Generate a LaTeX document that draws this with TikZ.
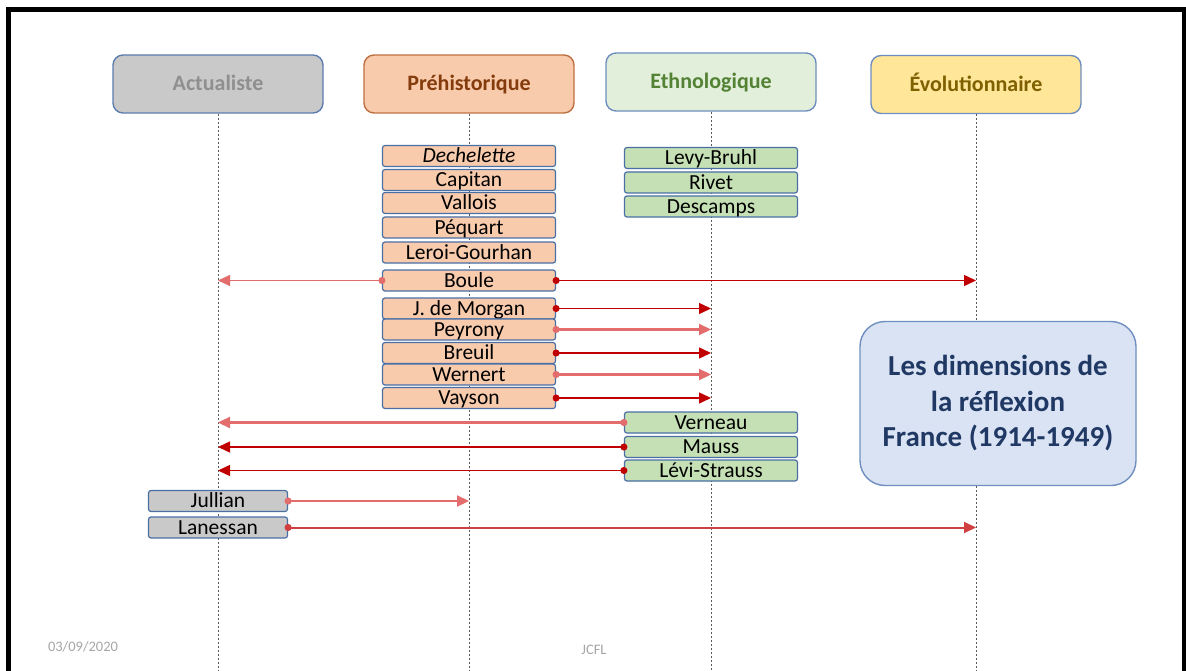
\documentclass[tikz,border=0pt]{standalone}
\usepackage{fontspec}
\setmainfont{Carlito}
\usetikzlibrary{arrows.meta,positioning}

\definecolor{linkred}{HTML}{C00000}
\definecolor{palered}{HTML}{E36C6C}
\definecolor{midred}{HTML}{D04040}
\definecolor{boxblue}{HTML}{4A6FA5}
\definecolor{softblue}{HTML}{6F8FC0}
\definecolor{prehfill}{HTML}{F8CBAD}
\definecolor{prehdraw}{HTML}{C07040}
\definecolor{prehtext}{HTML}{843C0C}
\definecolor{ethnfill}{HTML}{C5E0B4}
\definecolor{ethnhead}{HTML}{E2EFDA}
\definecolor{ethntext}{HTML}{548235}
\definecolor{evolfill}{HTML}{FFE699}
\definecolor{evoltext}{HTML}{7F6000}
\definecolor{actufill}{HTML}{C9C9C9}
\definecolor{actutext}{HTML}{8F8F8F}
\definecolor{titlefill}{HTML}{DAE3F3}
\definecolor{titleblue}{HTML}{203864}

\tikzset{
  header/.style={line width=1.4pt, rounded corners=10pt, minimum width=210pt,
    minimum height=58pt, text height=17pt, text depth=3.5pt,
    font=\fontsize{22}{24}\selectfont\bfseries},
  person/.style={draw=boxblue, line width=1.2pt, rounded corners=2.5pt,
    minimum width=173pt, minimum height=21pt, inner sep=0pt,
    text height=17pt, text depth=3.5pt, font=\fontsize{21.5}{23}\selectfont},
  prehbox/.style={person, fill=prehfill},
  ethnbox/.style={person, fill=ethnfill},
  actubox/.style={person, fill=actufill, minimum width=139pt},
  lifeline/.style={dash pattern=on 2pt off 2pt, gray!70!black, line width=0.6pt},
  link/.style={linkred, line width=1.4pt, shorten <=-3.5pt,
    {Circle[length=7pt]}-{Triangle[length=12pt,width=11pt]}},
  softlink/.style={link, palered, line width=2.2pt},
  footer/.style={text=gray!70, font=\fontsize{14.5}{16}\selectfont},
}

\begin{document}
\begin{tikzpicture}[x=1pt,y=-1pt]

\useasboundingbox (0,0) rectangle (1186,671);
\fill[white] (0,0) rectangle (1186,671);
\draw[line width=5pt] (8.5,671) |- (1184,10) -- (1184,671);
\coordinate (bottom) at (0,671);

% columns
\node[header, draw=boxblue!90, fill=actufill, text=actutext] (actu) at (218,84) {Actualiste};
\node[header, draw=prehdraw, fill=prehfill, text=prehtext] (preh) at (469,84) {Préhistorique};
\node[header, draw=softblue, fill=ethnhead, text=ethntext] (ethn) at (711,82) {Ethnologique};
\node[header, draw=softblue, fill=evolfill, text=evoltext] (evol) at (976,84.5) {Évolutionnaire};

\foreach \col in {actu, preh, ethn, evol}
  \draw[lifeline] (\col.south) -- (\col.south |- bottom);

% Prehistorique
\node[prehbox] (dech) at (469,156) {\textit{Dechelette}};
\node[prehbox] (capi) at (469,180) {Capitan};
\node[prehbox] (vall) at (469,203) {Vallois};
\node[prehbox] (pequ) at (469,227.5) {Péquart};
\node[prehbox] (lero) at (469,252.5) {Leroi-Gourhan};
\node[prehbox] (boul) at (469,280.5) {Boule};
\node[prehbox] (morg) at (469,308.5) {J. de Morgan};
\node[prehbox] (peyr) at (469,329.5) {Peyrony};
\node[prehbox] (breu) at (469,353) {Breuil};
\node[prehbox] (wern) at (469,374.5) {Wernert};
\node[prehbox] (vays) at (469,398) {Vayson};

% Ethnologique
\node[ethnbox] (levy) at (711,158) {Levy-Bruhl};
\node[ethnbox] (rive) at (711,182.5) {Rivet};
\node[ethnbox] (desc) at (711,206.5) {Descamps};
\node[ethnbox] (vern) at (711,422.5) {Verneau};
\node[ethnbox] (maus) at (711,447) {Mauss};
\node[ethnbox] (levi) at (711,470.5) {Lévi-Strauss};

% Actualiste
\node[actubox] (jull) at (218,501) {Jullian};
\node[actubox] (lane) at (218,527.5) {Lanessan};

\draw[softlink, line width=1pt] (boul.west) -- (boul.west -| actu);
\draw[link] (boul.east) -- (boul.east -| evol);
\draw[link] (morg.east) -- (morg.east -| ethn);
\draw[softlink] (peyr.east) -- (peyr.east -| ethn);
\draw[link] (breu.east) -- (breu.east -| ethn);
\draw[softlink] (wern.east) -- (wern.east -| ethn);
\draw[link] (vays.east) -- (vays.east -| ethn);
\draw[softlink] (vern.west) -- (vern.west -| actu);
\draw[link] (maus.west) -- (maus.west -| actu);
\draw[link] (levi.west) -- (levi.west -| actu);
\draw[softlink] (jull.east) -- (jull.east -| preh);
\draw[link, midred, line width=2pt] (lane.east) -- (lane.east -| evol);

\node[draw=softblue, line width=1.4pt, fill=titlefill, rounded corners=25pt,
  minimum width=276pt, minimum height=164pt, align=center, text=titleblue,
  font=\fontsize{29}{35.5}\selectfont\bfseries] (title) at (998,403.5)
  {Les dimensions de\\la réflexion\\France (1914-1949)};

\node[footer] (date) at (83,647) {03/09/2020};
\node[footer] (sign) at (594,650) {JCFL};

\end{tikzpicture}
\end{document}
